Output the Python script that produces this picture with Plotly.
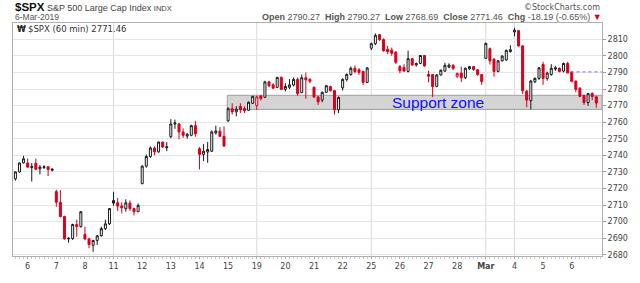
import plotly.graph_objects as go

# ---------------- data (hourly bars, $SPX) ----------------
open_ = [2725.8, 2730.0, 2735.5,
         2735.4, 2732.6, 2735.2, 2731.9, 2732.6, 2733.1, 2731.0,
         2718.1, 2711.7, 2703.1, 2689.6, 2689.8, 2698.3, 2697.0,
         2692.4, 2689.6, 2685.8, 2688.7, 2691.5, 2695.8, 2698.7,
         2712.7, 2711.4, 2709.5, 2707.8, 2711.2, 2707.9, 2706.0,
         2722.9, 2733.5, 2739.3, 2744.4, 2742.1, 2748.0, 2744.6,
         2751.2, 2758.9, 2758.9, 2754.1, 2751.6, 2752.1, 2757.9,
         2744.0, 2740.6, 2742.0, 2742.5, 2753.5, 2754.6, 2751.5,
         2760.8, 2768.1, 2766.2, 2769.5, 2768.2, 2767.2, 2771.4,
         2770.0, 2775.8, 2775.0, 2784.3, 2782.5, 2781.0, 2787.0,
         2779.8, 2781.0, 2782.4, 2785.8, 2777.8, 2786.8, 2785.8,
         2781.0, 2775.2, 2773.3, 2778.0, 2781.5, 2779.0, 2767.5,
         2780.7, 2785.8, 2788.7, 2792.5, 2791.6, 2790.6, 2784.0,
         2804.6, 2807.3, 2812.8, 2809.8, 2804.0, 2803.5, 2802.2,
         2793.5, 2793.0, 2790.6, 2798.3, 2794.5, 2795.4, 2800.2,
         2788.7, 2788.7, 2781.6, 2788.5, 2790.8, 2793.2, 2794.3,
         2787.7, 2789.6, 2786.8, 2792.2, 2793.5, 2791.6, 2788.7,
         2798.5, 2804.3, 2798.0, 2790.6, 2797.0, 2797.5, 2802.5,
         2814.4, 2815.2, 2806.0, 2778.7, 2772.9, 2784.4, 2786.4,
         2794.8, 2786.4, 2788.7, 2792.0, 2792.5, 2790.8, 2795.4,
         2790.3, 2784.8, 2780.5, 2776.2, 2771.8, 2777.3, 2775.3]
high = [2730.3, 2735.6, 2739.7,
        2738.1, 2735.4, 2738.0, 2734.2, 2734.0, 2733.5, 2732.2,
        2719.3, 2719.0, 2703.6, 2690.6, 2698.8, 2701.2, 2706.3,
        2697.0, 2690.2, 2689.0, 2692.0, 2697.0, 2701.2, 2708.1,
        2718.0, 2714.3, 2711.7, 2713.5, 2712.8, 2708.5, 2711.0,
        2734.0, 2740.5, 2745.4, 2745.4, 2748.2, 2748.2, 2748.0,
        2761.8, 2761.5, 2759.5, 2756.3, 2753.5, 2758.5, 2760.8,
        2745.0, 2746.8, 2748.0, 2755.0, 2757.9, 2757.0, 2757.5,
        2769.0, 2771.4, 2769.6, 2771.4, 2769.5, 2772.5, 2775.8,
        2776.0, 2776.5, 2785.0, 2785.0, 2783.5, 2787.3, 2787.5,
        2783.5, 2786.0, 2787.0, 2787.0, 2788.7, 2789.9, 2786.5,
        2781.6, 2776.0, 2778.5, 2782.5, 2782.0, 2779.5, 2775.5,
        2786.5, 2789.5, 2793.5, 2794.2, 2792.5, 2791.0, 2793.2,
        2808.0, 2813.5, 2813.2, 2810.5, 2806.0, 2805.0, 2803.0,
        2794.5, 2795.0, 2803.1, 2798.8, 2796.0, 2800.5, 2800.5,
        2791.0, 2789.0, 2789.0, 2791.8, 2795.8, 2795.5, 2795.0,
        2790.0, 2793.5, 2793.0, 2793.7, 2793.7, 2792.0, 2789.0,
        2808.0, 2805.0, 2798.5, 2797.5, 2800.5, 2803.8, 2806.4,
        2816.9, 2815.5, 2806.5, 2779.5, 2785.5, 2787.0, 2793.2,
        2796.4, 2790.5, 2795.0, 2794.0, 2793.0, 2796.0, 2796.4,
        2790.3, 2785.0, 2781.0, 2776.5, 2777.5, 2778.0, 2776.0]
low = [2724.7, 2729.5, 2735.0,
       2732.4, 2724.2, 2731.0, 2728.5, 2731.8, 2727.5, 2730.3,
       2709.0, 2702.6, 2689.2, 2687.3, 2689.0, 2691.0, 2696.5,
       2689.0, 2684.0, 2681.8, 2686.0, 2691.0, 2695.0, 2698.0,
       2709.5, 2706.5, 2705.0, 2706.0, 2706.5, 2703.8, 2705.8,
       2722.6, 2732.5, 2738.5, 2740.0, 2741.5, 2744.5, 2742.5,
       2750.3, 2756.0, 2749.6, 2750.5, 2750.0, 2751.5, 2751.2,
       2731.5, 2736.5, 2735.5, 2742.0, 2752.5, 2751.0, 2745.0,
       2760.2, 2764.6, 2763.5, 2765.5, 2765.5, 2766.8, 2771.0,
       2767.3, 2773.0, 2774.5, 2781.0, 2780.0, 2780.5, 2779.5,
       2778.5, 2780.0, 2781.5, 2776.0, 2777.5, 2774.1, 2783.5,
       2774.5, 2770.4, 2772.0, 2777.5, 2778.5, 2764.6, 2765.5,
       2779.1, 2784.5, 2788.0, 2789.5, 2788.5, 2782.4, 2783.5,
       2803.5, 2806.5, 2809.0, 2802.5, 2801.0, 2800.0, 2795.0,
       2789.5, 2790.5, 2790.0, 2794.0, 2793.5, 2795.0, 2793.5,
       2784.0, 2775.1, 2781.0, 2788.0, 2790.3, 2792.5, 2791.5,
       2786.5, 2784.3, 2786.0, 2791.5, 2791.0, 2788.0, 2782.5,
       2798.0, 2794.8, 2787.4, 2790.0, 2796.5, 2797.0, 2802.0,
       2811.8, 2805.5, 2777.0, 2769.0, 2767.7, 2783.5, 2785.5,
       2782.5, 2785.0, 2788.0, 2791.0, 2790.0, 2790.0, 2789.5,
       2784.0, 2778.0, 2775.0, 2770.4, 2769.8, 2773.3, 2768.7]
close = [2730.0, 2735.4, 2737.9,
         2732.9, 2733.2, 2731.6, 2732.9, 2733.1, 2731.5, 2731.6,
         2711.7, 2703.1, 2689.6, 2690.0, 2698.3, 2697.0, 2706.0,
         2689.6, 2686.2, 2688.7, 2691.5, 2695.8, 2698.7, 2707.9,
         2711.2, 2709.4, 2708.4, 2711.4, 2707.9, 2706.0, 2709.8,
         2733.5, 2739.3, 2744.4, 2742.1, 2748.0, 2745.0, 2745.1,
         2758.9, 2759.5, 2754.1, 2752.1, 2752.7, 2757.9, 2753.0,
         2740.6, 2742.5, 2743.5, 2754.1, 2754.7, 2751.5, 2745.7,
         2768.1, 2766.2, 2767.8, 2767.5, 2767.0, 2772.0, 2775.6,
         2775.2, 2774.3, 2784.3, 2782.0, 2780.5, 2787.0, 2779.8,
         2781.5, 2782.5, 2785.8, 2777.2, 2786.8, 2785.5, 2784.7,
         2775.2, 2772.3, 2778.0, 2782.0, 2779.0, 2767.5, 2774.9,
         2785.8, 2788.7, 2792.5, 2790.6, 2790.0, 2784.0, 2792.7,
         2807.3, 2812.4, 2809.8, 2803.1, 2802.5, 2801.6, 2796.1,
         2791.0, 2790.8, 2798.3, 2794.5, 2795.3, 2800.2, 2793.9,
         2787.7, 2781.5, 2788.5, 2791.3, 2794.3, 2794.4, 2792.4,
         2789.3, 2786.8, 2792.5, 2793.5, 2791.8, 2788.7, 2784.5,
         2807.5, 2797.0, 2790.6, 2797.0, 2799.8, 2803.3, 2803.7,
         2815.5, 2806.0, 2779.0, 2773.3, 2784.8, 2786.4, 2792.8,
         2786.4, 2789.6, 2792.5, 2792.8, 2790.6, 2795.4, 2789.7,
         2784.6, 2779.8, 2775.6, 2771.8, 2777.2, 2775.5, 2771.5]

# day labels and the bar index where each session starts
tick_pos = [3, 10, 17, 24, 31, 38, 45, 52, 59, 66, 73, 80, 87, 94, 101, 108, 115, 122, 129, 136]
tick_text = ["6", "7", "8", "11", "12", "13", "14", "15", "19", "20", "21", "22",
             "25", "26", "27", "28", "<b>Mar</b>", "4", "5", "6"]
week_starts = [24, 59, 87, 115, 122]

support_low, support_high = 2767.7, 2776.2
support_start = 51.8

# ---------------- figure ----------------
RED = "#d8001c"
BLK = "#1a1a1a"
n = len(close)
xs = list(range(n))
prev = [close[0]] + close[:-1]

groups = {
    "up_black": dict(inc=True, red=False),
    "up_red": dict(inc=True, red=True),
    "dn_black": dict(inc=False, red=False),
    "dn_red": dict(inc=False, red=True),
}

fig = go.Figure()
for name, g in groups.items():
    idx = [i for i in xs
           if ((close[i] >= open_[i]) == g["inc"]) and ((close[i] < prev[i]) == g["red"])]
    if not idx:
        continue
    col = RED if g["red"] else BLK
    fill = "white" if g["inc"] else col
    fig.add_trace(go.Candlestick(
        x=idx,
        open=[open_[i] for i in idx], high=[high[i] for i in idx],
        low=[low[i] for i in idx], close=[close[i] for i in idx],
        increasing=dict(line=dict(color=col, width=1), fillcolor=fill),
        decreasing=dict(line=dict(color=col, width=1), fillcolor=fill),
        showlegend=False, hoverinfo="skip", name=name,
    ))

x_range = [-0.585, 143.4]
y_range = [2679.3, 2819.8]

shapes = []
for w in week_starts:
    shapes.append(dict(type="line", xref="x", yref="paper", x0=w, x1=w, y0=0, y1=1,
                       line=dict(color="#dadada", width=1), layer="below"))
shapes.append(dict(type="rect", xref="x", yref="y", x0=support_start, x1=x_range[1],
                   y0=support_low, y1=support_high, fillcolor="#d4d4d4",
                   line=dict(color="#a0a0a0", width=1), layer="between"))
shapes.append(dict(type="line", xref="x", yref="y", x0=tick_pos[-1] - 0.3, x1=x_range[1],
                   y0=open_[tick_pos[-1]], y1=open_[tick_pos[-1]],
                   line=dict(color="#6f6fff", width=1, dash="dot"), layer="above"))

L, R, T, B = 13, 36, 23, 15
W, H = 640, 283
pw, ph = W - L - R, H - T - B


def xp(px):
    return (px - L) / pw


def yp(py):
    return (H - B - py) / ph


annotations = [
    dict(text="<b><span style='font-size:11.5px;color:#111'>$SPX</span></b> S&P 500 Large Cap Index "
              "<span style='font-size:7.5px'>INDX</span>",
         x=xp(12.5), y=yp(6.5), xanchor="left", yanchor="middle",
         font=dict(family="Liberation Sans", size=9, color="#444")),
    dict(text="6-Mar-2019", x=xp(12.5), y=yp(16.8), xanchor="left", yanchor="middle",
         font=dict(family="Liberation Sans", size=8.5, color="#555")),
    dict(text="©StockCharts.com", x=xp(604), y=yp(6.5), xanchor="right", yanchor="middle",
         font=dict(family="DejaVu Sans", size=8, color="#555")),
    dict(text="<b>Open</b> 2790.27  <b>High</b> 2790.27  <b>Low</b> 2768.69  "
              "<b>Close</b> 2771.46  <b>Chg</b> -18.19 (-0.65%) "
              "<span style='color:#d8001c'>▼</span>",
         x=xp(606), y=yp(16.8), xanchor="right", yanchor="middle",
         font=dict(family="Liberation Sans", size=9, color="#555")),
    dict(text="<b>₩</b>", x=xp(15.5), y=yp(29.5), xanchor="left", yanchor="middle",
         font=dict(family="DejaVu Sans", size=8, color="#222")),
    dict(text="$SPX (60 min) 2771.46", x=xp(26), y=yp(29.5), xanchor="left", yanchor="middle",
         font=dict(family="DejaVu Sans", size=8.5, color="#333")),
    dict(text="Support zone", xref="x", yref="y", x=103.4, y=2772.0,
         xanchor="center", yanchor="middle", showarrow=False,
         font=dict(family="Liberation Sans", size=15.5, color="#1010ff")),
]
for a in annotations:
    a.setdefault("xref", "paper")
    a.setdefault("yref", "paper")
    a["showarrow"] = False

fig.update_layout(
    width=W, height=H,
    margin=dict(l=L, r=R, t=T, b=B, pad=0),
    paper_bgcolor="white", plot_bgcolor="white",
    boxmode="overlay",
    shapes=shapes, annotations=annotations,
    xaxis=dict(range=x_range, tickmode="array", tickvals=tick_pos, ticktext=tick_text,
               tickfont=dict(family="DejaVu Sans", size=8, color="#444"),
               ticks="outside", ticklen=2, tickcolor="#aaa",
               showgrid=False, zeroline=False, showline=True, linecolor="#b0b0b0",
               mirror=True, rangeslider=dict(visible=False), fixedrange=True,
               minor=dict(dtick=1, tick0=0, ticks="outside", ticklen=2, tickcolor="#c8c8c8",
                          showgrid=False)),
    yaxis=dict(range=y_range, side="right", tick0=2680, dtick=10,
               tickfont=dict(family="DejaVu Sans", size=8, color="#444"),
               ticks="outside", ticklen=3, tickcolor="#999",
               showgrid=True, gridcolor="#e6e6e6", gridwidth=1, zeroline=False,
               showline=True, linecolor="#b0b0b0", mirror=True, fixedrange=True),
)

fig.write_html("out.html")
